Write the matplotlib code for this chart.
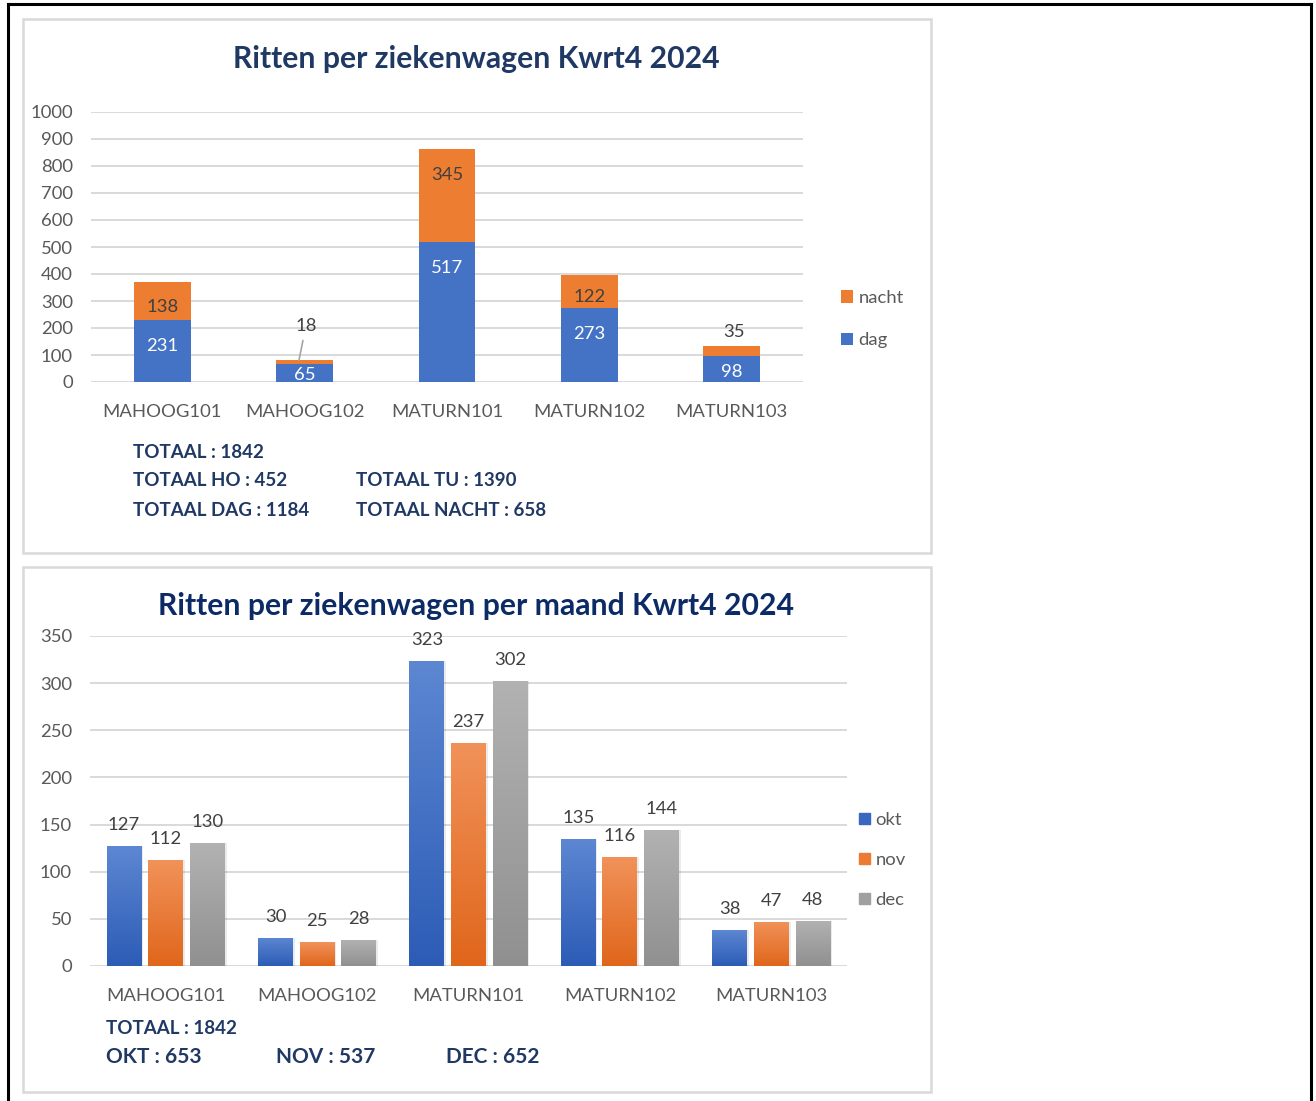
import matplotlib
matplotlib.use("Agg")
import matplotlib.pyplot as plt
import numpy as np
from matplotlib.patches import Rectangle
from matplotlib.lines import Line2D
from matplotlib.colors import LinearSegmentedColormap

plt.rcParams['font.family'] = ['Lato', 'DejaVu Sans']

# data
vehicles = ["MAHOOG101", "MAHOOG102", "MATURN101", "MATURN102", "MATURN103"]
dag = [231, 65, 517, 273, 98]
nacht = [138, 18, 345, 122, 35]
okt = [127, 30, 323, 135, 38]
nov = [112, 25, 237, 116, 47]
dec = [130, 28, 302, 144, 48]
top_ticks = [0, 100, 200, 300, 400, 500, 600, 700, 800, 900, 1000]
bottom_ticks = [0, 50, 100, 150, 200, 250, 300, 350]
top_title = "Ritten per ziekenwagen Kwrt4 2024"
bottom_title = "Ritten per ziekenwagen per maand Kwrt4 2024"
top_totals = ["TOTAAL : 1842", "TOTAAL HO : 452", "TOTAAL TU : 1390",
              "TOTAAL DAG : 1184", "TOTAAL NACHT : 658"]
bottom_totals = ["TOTAAL : 1842", "OKT : 653", "NOV : 537", "DEC : 652"]

W, H = 1316, 1101
GREY_TXT = '#595959'
LABEL_TXT = '#404040'
GRID = '#D9D9D9'

fig = plt.figure(figsize=(W / 100, H / 100), dpi=100)


def px_axes(left, top, right, bottom):
    return fig.add_axes([left / W, 1 - bottom / H, (right - left) / W, (bottom - top) / H])


def fig_rect(x0, y0, x1, y1, **kw):
    r = Rectangle((x0 / W, 1 - y1 / H), (x1 - x0) / W, (y1 - y0) / H,
                  transform=fig.transFigure, **kw)
    fig.add_artist(r)


# outer frame and panels
fig_rect(23, 19, 931, 553, facecolor='white', edgecolor='#D9D9D9', lw=1.8, zorder=-2)
fig_rect(23, 567, 931, 1092, facecolor='white', edgecolor='#D9D9D9', lw=1.8, zorder=-2)
for xs, ys in [((8, 8), (4, 1101)), ((8, 1311), (4, 4)), ((1311, 1311), (4, 1101))]:
    fig.add_artist(Line2D([x / W for x in xs], [1 - y / H for y in ys],
                          transform=fig.transFigure, color='black', lw=2.2))


def style_axes(ax, ticks, ylim, xpad):
    for s in ax.spines.values():
        s.set_visible(False)
    ax.set_facecolor('none')
    ax.set_ylim(*ylim)
    ax.set_yticks(ticks)
    ax.set_xlim(-0.5, 4.5)
    ax.set_xticks(range(len(vehicles)))
    ax.set_xticklabels(vehicles)
    ax.tick_params(axis='both', length=0, labelsize=13.3, labelcolor=GREY_TXT)
    ax.tick_params(axis='y', pad=13)
    ax.tick_params(axis='x', pad=xpad)
    ax.grid(axis='y', color=GRID, lw=1.4)
    ax.set_axisbelow(True)


# ---------- top chart ----------
ax1 = px_axes(91, 112, 803, 382)
style_axes(ax1, top_ticks, (0, 1000), 16)
x = np.arange(len(vehicles))
b_dag = ax1.bar(x, dag, 0.4, color='#4472C4', zorder=3)
b_nacht = ax1.bar(x, nacht, 0.4, bottom=dag, color='#ED7D31', zorder=3)
scale = 270 / 1000

for i in range(len(vehicles)):
    seg = dag[i] * scale
    ax1.annotate(str(dag[i]), (i, dag[i]), xytext=(0, -min(26, 0.62 * seg)),
                 textcoords='offset pixels', ha='center', va='center',
                 color='white', fontsize=13.3, clip_on=True, zorder=5)
    top = dag[i] + nacht[i]
    seg = nacht[i] * scale
    if seg > 15:
        ax1.annotate(str(nacht[i]), (i, top), xytext=(0, -min(26, 0.65 * seg)),
                     textcoords='offset pixels', ha='center', va='center',
                     color=LABEL_TXT, fontsize=13.3, zorder=5)

# small night values placed outside
ax1.annotate(str(nacht[1]), (1 - 0.04, dag[1] + nacht[1] - 4), xytext=(7, 35),
             textcoords='offset pixels', ha='center', va='center', color=LABEL_TXT,
             fontsize=13.3, zorder=5,
             arrowprops=dict(arrowstyle='-', color='#A6A6A6', lw=1.2, shrinkA=3, shrinkB=0))
ax1.annotate(str(nacht[4]), (4, dag[4] + nacht[4]), xytext=(2, 14),
             textcoords='offset pixels', ha='center', va='center', color=LABEL_TXT,
             fontsize=13.3, zorder=5)

ax1.legend([b_nacht, b_dag], ["nacht", "dag"], loc='upper left',
           bbox_to_anchor=(841 / W, 1 - 290 / H), bbox_transform=fig.transFigure,
           frameon=False, fontsize=13.3, labelcolor=GREY_TXT, handlelength=0.65,
           handleheight=0.65, handletextpad=0.3, labelspacing=1.42,
           borderpad=0, borderaxespad=0)

fig.text(476 / W, 1 - 59 / H, top_title, ha='center', va='center',
         fontsize=21.7, fontweight='bold', color='#1F3864')
top_pos = [(133, 452), (133, 480), (356, 480), (133, 510), (356, 510)]
for txt, (tx, ty) in zip(top_totals, top_pos):
    fig.text(tx / W, 1 - ty / H, txt, ha='left', va='center', fontsize=13.5,
             fontweight='bold', color='#1F3864')


# ---------- bottom chart ----------
ax2 = px_axes(90, 636, 847, 966)
style_axes(ax2, bottom_ticks, (0, 350), 15.5)


def gradient_bars(ax, xpos, vals, width, top_col, bot_col):
    bars = ax.bar(xpos, vals, width, color=bot_col, zorder=3)
    ax.bar(xpos + 0.012, vals, width, color='black', alpha=0.08, zorder=2.9)
    grad = np.linspace(0, 1, 256).reshape(-1, 1)
    cmap = LinearSegmentedColormap.from_list('g', [bot_col, top_col])
    for b in bars:
        x0, w, h = b.get_x(), b.get_width(), b.get_height()
        im = ax.imshow(grad, extent=(x0, x0 + w, 0, h), origin='lower', cmap=cmap,
                       aspect='auto', zorder=3.1, interpolation='bilinear')
        im.set_clip_path(b)
    for xi, v in zip(xpos, vals):
        ax.annotate(str(v), (xi, v), xytext=(0, 21), textcoords='offset pixels',
                    ha='center', va='center', color=LABEL_TXT, fontsize=13.3, zorder=5)
    return bars


off, bw = 0.275, 0.23
g1 = gradient_bars(ax2, x - off, okt, bw, '#5D87D2', '#2C5CB6')
g2 = gradient_bars(ax2, x, nov, bw, '#F1925A', '#E0661B')
g3 = gradient_bars(ax2, x + off, dec, bw, '#B2B2B2', '#909090')
ax2.set_xlim(-0.5, 4.5)
ax2.set_ylim(0, 350)

handles = [Rectangle((0, 0), 1, 1, color=c) for c in ['#3A68C0', '#EC7A33', '#A0A0A0']]
ax2.legend(handles, ["okt", "nov", "dec"], loc='upper left',
           bbox_to_anchor=(859 / W, 1 - 812 / H), bbox_transform=fig.transFigure,
           frameon=False, fontsize=13.3, labelcolor=GREY_TXT, handlelength=0.6,
           handleheight=0.6, handletextpad=0.3, labelspacing=1.3,
           borderpad=0, borderaxespad=0)

fig.text(476 / W, 1 - 606 / H, bottom_title, ha='center', va='center',
         fontsize=21.7, fontweight='bold', color='#0B2A66')
bottom_pos = [(106, 1029), (106, 1057), (276, 1057), (446, 1057)]
bottom_sizes = [13.5, 15, 15, 15]
for txt, (tx, ty), fs in zip(bottom_totals, bottom_pos, bottom_sizes):
    fig.text(tx / W, 1 - ty / H, txt, ha='left', va='center', fontsize=fs,
             fontweight='bold', color='#1F3864')

fig.savefig("out.png", dpi=100)
